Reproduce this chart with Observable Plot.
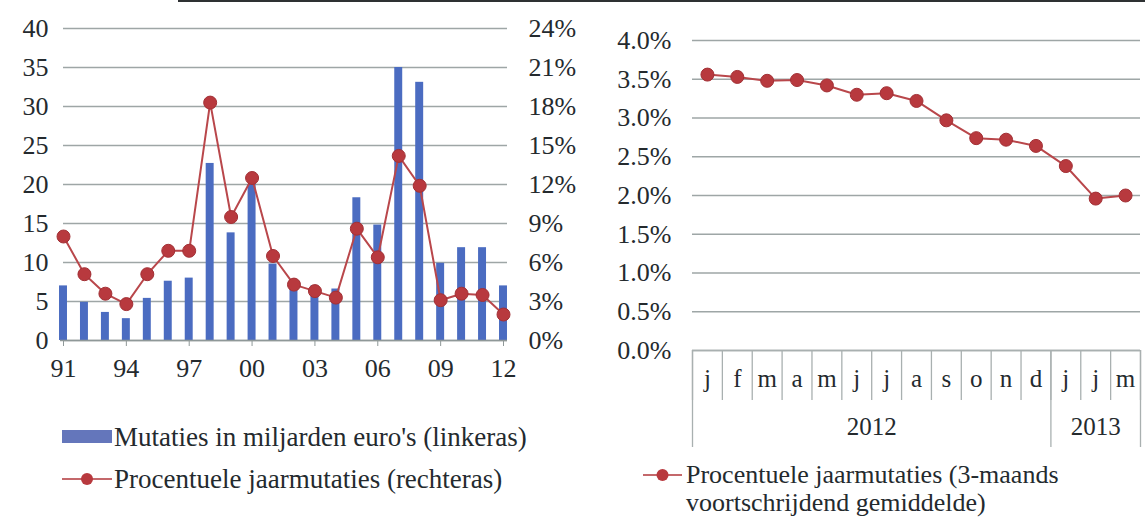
<!DOCTYPE html>
<html><head><meta charset="utf-8">
<script src="https://cdn.jsdelivr.net/npm/d3@7"></script>
<script src="https://cdn.jsdelivr.net/npm/@observablehq/plot@0.6"></script>
<style>
body{margin:0;background:#fff;}
#wrap{position:relative;width:1145px;height:520px;overflow:hidden;font-family:"Liberation Serif","Times New Roman",serif;color:#242a2e;background:#fff;}
.panel{position:absolute;top:0;}
.lg{position:absolute;font-size:27px;line-height:30px;white-space:nowrap;color:#242a2e;}
.lg.r{font-size:26px;}
.sw{position:absolute;}
#topline{position:absolute;left:178px;right:0;top:0;height:2px;background:#2e3133;}
</style></head>
<body><div id="wrap"><div id="topline"></div></div>
<script>
// ---- data: left panel ----
const years = ["91","92","93","94","95","96","97","98","99","00","01","02","03","04","05","06","07","08","09","10","11","12"];
const bars  = [7.0, 4.9, 3.6, 2.8, 5.4, 7.6, 8.0, 22.7, 13.8, 20.0, 9.8, 6.8, 7.0, 6.6, 18.3, 14.8, 35.0, 33.1, 9.9, 11.9, 11.9, 7.0];
const pct   = [8.0, 5.1, 3.6, 2.8, 5.1, 6.9, 6.9, 18.3, 9.5, 12.5, 6.5, 4.3, 3.8, 3.3, 8.6, 6.4, 14.2, 11.9, 3.1, 3.6, 3.5, 2.0];
const leftTicks  = [0, 5, 10, 15, 20, 25, 30, 35, 40];
const rightTicks = [0, 3, 6, 9, 12, 15, 18, 21, 24];
const xTickYears = ["91","94","97","00","03","06","09","12"];
const legendLeft = ["Mutaties in miljarden euro's (linkeras)", "Procentuele jaarmutaties (rechteras)"];

// ---- data: right panel ----
const months    = ["j","f","m","a","m","j","j","a","s","o","n","d","j","j","m"];
const monthVals = [3.56, 3.53, 3.48, 3.49, 3.42, 3.30, 3.32, 3.22, 2.97, 2.74, 2.72, 2.64, 2.38, 1.96, 2.00];
const yearLabels = ["2012", "2013"];
const yearMonthCounts = [12, 3];
const pctTicks = [0, 0.5, 1.0, 1.5, 2.0, 2.5, 3.0, 3.5, 4.0];
const legendRight = ["Procentuele jaarmutaties (3-maands", "voortschrijdend gemiddelde)"];

const FONT = '"Liberation Serif","Times New Roman",serif';
const BAR = "#4b6cc1", RED = "#b8393e", LINE = "#b9474b", GRID = "#9ea6a6", TXT = "#242a2e";
const wrap = document.getElementById("wrap");

// ---------- left chart ----------
const k = leftTicks[leftTicks.length-1] / rightTicks[rightTicks.length-1];
const leftData = years.map((y, i) => ({i, year: y, bar: bars[i], pct: pct[i]}));
const xTickIdx = xTickYears.map(y => years.indexOf(y));
const left = Plot.plot({
  width: 590, height: 385, marginLeft: 63, marginRight: 87, marginTop: 28, marginBottom: 45,
  x: {type: "linear", domain: [0, years.length - 1], axis: null},
  y: {domain: [0, leftTicks[leftTicks.length-1]], axis: null},
  style: {fontFamily: FONT, fontSize: "26px", color: TXT, background: "transparent", overflow: "visible"},
  marks: [
    Plot.gridY(leftTicks, {stroke: GRID, strokeOpacity: 1, strokeWidth: 1.4, insetLeft: 0, insetRight: -4}),
    Plot.axisY(leftTicks, {anchor: "left", label: null, tickSize: 0, tickPadding: 15, fontSize: 26, fill: TXT}),
    Plot.axisY(leftTicks, {anchor: "right", label: null, tickSize: 0, tickPadding: 25, fontSize: 26, fill: TXT,
      tickFormat: d => Math.round(d / k) + "%"}),
    Plot.rectY(leftData, {x1: d => d.i - 0.19, x2: d => d.i + 0.19, y: "bar", fill: BAR}),
    Plot.ruleY([0], {stroke: "#8f9898", strokeWidth: 1.5, insetLeft: -3, insetRight: -4}),
    Plot.axisX(xTickIdx, {anchor: "bottom", label: null, tickSize: 6, tickPadding: 12, stroke: "#8f9898", fontSize: 26, fill: TXT,
      tickFormat: i => years[i]}),
    Plot.line(leftData, {x: "i", y: d => d.pct * k, stroke: LINE, strokeWidth: 2}),
    Plot.dot(leftData, {x: "i", y: d => d.pct * k, r: 6.5, fill: RED, stroke: "#a23035", strokeWidth: 1})
  ]
});
left.classList.add("panel"); left.style.left = "0px";
wrap.appendChild(left);

// ---------- right chart ----------
const rightData = months.map((m, i) => ({i, m, v: monthVals[i]}));
const monthEdges = d3.range(months.length + 1).map(i => i - 0.5);
let acc = 0;
const yearEdges = [-0.5];
const yearCenters = yearLabels.map((y, j) => {
  const c = acc + (yearMonthCounts[j] - 1) / 2; acc += yearMonthCounts[j]; yearEdges.push(acc - 0.5);
  return {label: y, c};
});
const right = Plot.plot({
  width: 555, height: 460, marginLeft: 102, marginRight: 5, marginTop: 40, marginBottom: 110,
  x: {type: "linear", domain: [-0.5, months.length - 0.5], axis: null},
  y: {domain: [0, pctTicks[pctTicks.length-1]], axis: null},
  style: {fontFamily: FONT, fontSize: "26px", color: TXT, background: "transparent", overflow: "visible"},
  marks: [
    Plot.gridY(pctTicks, {stroke: GRID, strokeOpacity: 1, strokeWidth: 1.4}),
    Plot.axisY(pctTicks, {anchor: "left", label: null, tickSize: 0, tickPadding: 21, fontSize: 26, fill: TXT,
      tickFormat: d => d.toFixed(1) + "%"}),
    Plot.ruleX(monthEdges, {x: d => d, stroke: "#a9b0b0", strokeWidth: 1.3, insetTop: 310, insetBottom: -50}),
    Plot.ruleX(yearEdges, {x: d => d, stroke: "#a9b0b0", strokeWidth: 1.3, insetTop: 310, insetBottom: -97}),
    Plot.ruleY([0], {stroke: "#a9b0b0", strokeWidth: 1.4}),
    Plot.text(rightData, {x: "i", text: "m", frameAnchor: "bottom", dy: 36, fontSize: 25, fill: TXT}),
    Plot.text(yearCenters, {x: "c", text: "label", frameAnchor: "bottom", dy: 84, fontSize: 25, fill: TXT}),
    Plot.line(rightData, {x: "i", y: "v", stroke: LINE, strokeWidth: 2}),
    Plot.dot(rightData, {x: "i", y: "v", r: 6.5, fill: RED, stroke: "#a23035", strokeWidth: 1})
  ]
});
right.classList.add("panel"); right.style.left = "590px";
wrap.appendChild(right);

// ---------- legends ----------
function addText(txt, x, y, cls) {
  const d = document.createElement("div"); d.className = "lg" + (cls ? " " + cls : ""); d.textContent = txt;
  d.style.left = x + "px"; d.style.top = (y - 15) + "px"; wrap.appendChild(d);
}
function addLineMarker(x1, x2, y) {
  const s = d3.create("svg").attr("class", "sw").attr("width", x2 - x1 + 10).attr("height", 20)
    .style("left", (x1 - 5) + "px").style("top", (y - 10) + "px");
  s.append("line").attr("x1", 5).attr("x2", x2 - x1 + 5).attr("y1", 10).attr("y2", 10)
    .attr("stroke", "#c4686b").attr("stroke-width", 2);
  s.append("circle").attr("cx", (x2 - x1) / 2 + 5).attr("cy", 10).attr("r", 6).attr("fill", RED);
  wrap.appendChild(s.node());
}
const sw = document.createElement("div"); sw.className = "sw";
Object.assign(sw.style, {left: "62px", top: "430px", width: "50px", height: "13px", background: "#6476bb"});
wrap.appendChild(sw);
addText(legendLeft[0], 114, 437);
addLineMarker(62, 112, 479);
addText(legendLeft[1], 114, 479);
addLineMarker(643, 682, 475);
addText(legendRight[0], 686, 475, "r");
addText(legendRight[1], 686, 503, "r");
</script></body></html>
